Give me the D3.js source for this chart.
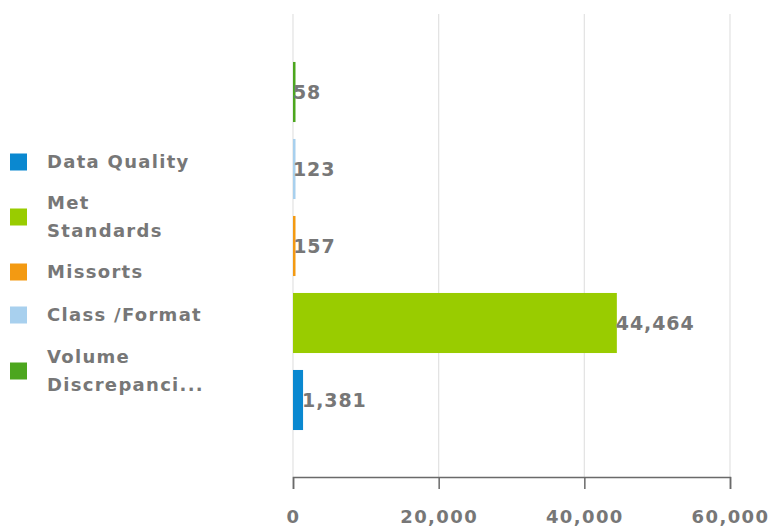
<!DOCTYPE html>
<html>
<head>
<meta charset="utf-8">
<script src="https://cdn.jsdelivr.net/npm/d3@7/dist/d3.min.js"></script>
<style>
  html, body { margin: 0; padding: 0; background: #fff; }
  svg text { font-family: "DejaVu Sans", Verdana, sans-serif; font-weight: bold; fill: #777; }
</style>
</head>
<body>
<svg id="chart" width="769" height="527"></svg>
<script>
// Categories from top to bottom of the bar stack
const categories = ["Volume Discrepancies", "Class /Format", "Missorts", "Met Standards", "Data Quality"];
const values = [58, 123, 157, 44464, 1381];
const colors = ["#4ca61e", "#a8d0ee", "#f39a12", "#99cc00", "#0a88d0"];
const xTicks = [0, 20000, 40000, 60000];

// Legend entries (listed bottom bar first), wrapped as drawn
const legendLabels = [["Data Quality"], ["Met", "Standards"], ["Missorts"], ["Class /Format"], ["Volume", "Discrepanci..."]];
const legendColors = ["#0a88d0", "#99cc00", "#f39a12", "#a8d0ee", "#4ca61e"];

const svg = d3.select("#chart");
const plot = { left: 293, right: 730, top: 14, bottom: 477 };

const x = d3.scaleLinear().domain([0, 60000]).range([plot.left, plot.right]);
const y = d3.scaleBand().domain(categories)
  .range([plot.top + 1, plot.bottom])
  .paddingInner(0.22).paddingOuter(0.61);

// vertical grid lines
svg.append("g").selectAll("line").data(xTicks).join("line")
  .attr("x1", d => x(d)).attr("x2", d => x(d))
  .attr("y1", plot.top).attr("y2", plot.bottom)
  .attr("stroke", "#e2e2e2").attr("stroke-width", 1.2);

// bars
svg.append("g").selectAll("rect").data(categories).join("rect")
  .attr("x", x(0))
  .attr("y", d => y(d))
  .attr("width", (d, i) => Math.max(2.5, x(values[i]) - x(0)))
  .attr("height", y.bandwidth())
  .attr("fill", (d, i) => colors[i]);

// value labels
const fmt = d3.format(",");
svg.append("g").selectAll("text").data(categories).join("text")
  .attr("x", (d, i) => Math.max(x(values[i]), x(0) + 1) - 1)
  .attr("y", d => y(d) + y.bandwidth() / 2)
  .attr("dy", "0.36em")
  .style("font-size", "19px")
  .style("letter-spacing", "0.9px")
  .text((d, i) => fmt(values[i]));

// x axis
const axis = svg.append("g").attr("transform", `translate(0,${plot.bottom})`)
  .call(d3.axisBottom(x).tickValues(xTicks).tickFormat(fmt).tickSize(12).tickPadding(21));
axis.select(".domain").attr("stroke", "#6a6a6a").attr("stroke-width", 1.5);
axis.selectAll(".tick line").attr("stroke", "#6a6a6a").attr("stroke-width", 1.5);
axis.selectAll(".tick text")
  .style("font-size", "18px")
  .style("letter-spacing", "1.4px")
  .attr("fill", "#777");

// legend
const rowCenters = [162, 217, 272, 315, 371];
const lineH = 28;
const lg = svg.append("g");
legendLabels.forEach((lines, i) => {
  const cy = rowCenters[i];
  lg.append("rect").attr("x", 10).attr("y", cy - 8.5).attr("width", 17).attr("height", 17)
    .attr("fill", legendColors[i]);
  const top = cy - (lines.length - 1) * lineH / 2;
  const t = lg.append("text")
    .style("font-size", "18px")
    .style("letter-spacing", "1.3px")
    .attr("fill", "#6e6e6e");
  lines.forEach((ln, k) => {
    t.append("tspan").attr("x", 47).attr("y", top + k * lineH).attr("dy", "0.36em").text(ln);
  });
});
</script>
</body>
</html>
